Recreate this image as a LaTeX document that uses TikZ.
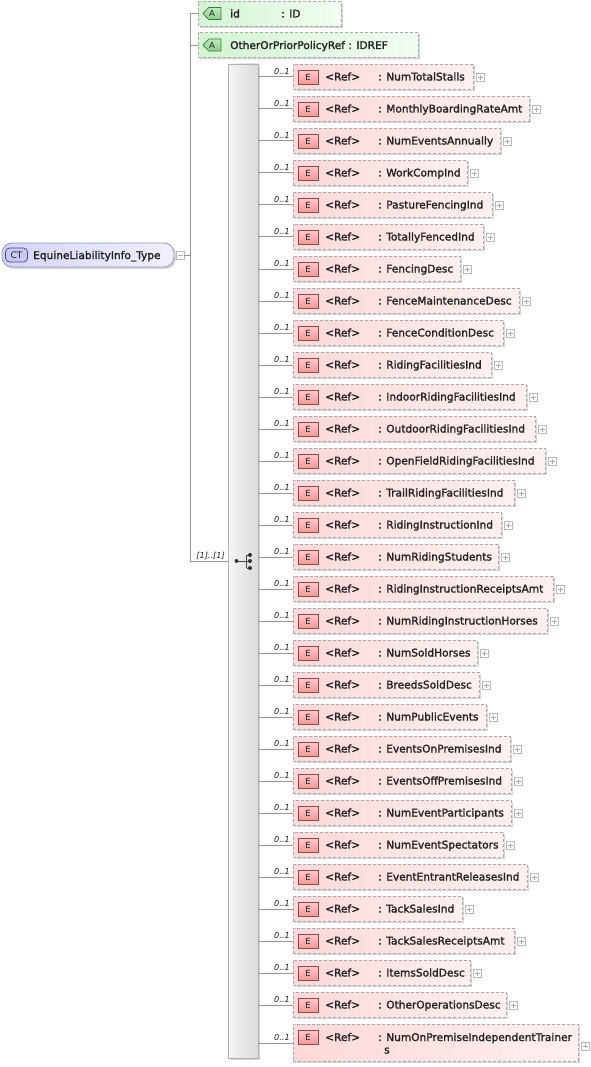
\documentclass[tikz,border=0pt]{standalone}
\usepackage{fontspec}
\setmainfont{DejaVu Sans}
\newfontfamily\bfnt[FakeBold=1.8]{DejaVu Sans}
\usetikzlibrary{shapes.misc,shadows}
\definecolor{linegray}{RGB}{150,150,150}
\definecolor{dashgray}{RGB}{170,170,170}
\definecolor{pinkL}{RGB}{253,216,216}
\definecolor{pinkR}{RGB}{255,240,240}
\definecolor{eiconT}{RGB}{252,200,200}
\definecolor{eiconBt}{RGB}{240,150,150}
\definecolor{eiconB}{RGB}{150,70,70}
\definecolor{greenL}{RGB}{210,245,210}
\definecolor{greenR}{RGB}{242,253,242}
\definecolor{aiconT}{RGB}{190,235,190}
\definecolor{aiconBt}{RGB}{140,205,140}
\definecolor{aiconB}{RGB}{60,120,60}
\definecolor{ctL}{RGB}{212,212,248}
\definecolor{ctR}{RGB}{240,240,253}
\definecolor{ctB}{RGB}{150,150,195}
\definecolor{cticon}{RGB}{200,200,242}
\definecolor{cticonB}{RGB}{70,70,130}
\definecolor{txt}{RGB}{35,35,35}
\begin{document}
\begin{tikzpicture}[x=1pt,y=-1pt,
  conn/.style={draw=linegray, line width=0.8pt},
  shadowed/.style={drop shadow={shadow xshift=2pt,shadow yshift=-2pt,fill=black!16,opacity=1}},
  elem/.style={shadowed, draw=dashgray, dash pattern=on 3pt off 2pt, line width=0.8pt,
    left color=pinkL, right color=pinkR, inner sep=0pt, minimum height=25pt, anchor=north west},
  eicon/.style={draw=eiconB, top color=eiconT, bottom color=eiconBt, line width=0.6pt,
    minimum width=20pt, minimum height=14pt, inner sep=0pt, font=\fontsize{8.5}{9}\selectfont, text=txt},
  lbl/.style={font=\bfnt\fontsize{10.6}{12}\selectfont, text=txt, inner sep=0pt, anchor=base west},
  mult/.style={font=\itshape\fontsize{8.2}{9}\selectfont, text=txt, inner sep=0pt, anchor=base east},
  plusbox/.style={draw=gray!55, fill=white, minimum size=8pt, inner sep=0pt, line width=0.5pt,
    path picture={\draw[gray!65, line width=0.5pt]
      ([xshift=-2.5pt]path picture bounding box.center) -- ([xshift=2.5pt]path picture bounding box.center)
      ([yshift=-2.5pt]path picture bounding box.center) -- ([yshift=2.5pt]path picture bounding box.center);}},
  minusbox/.style={draw=gray!55, fill=white, minimum size=8pt, inner sep=0pt, line width=0.5pt,
    path picture={\draw[gray!65, line width=0.5pt]
      ([xshift=-2.5pt]path picture bounding box.center) -- ([xshift=2.5pt]path picture bounding box.center);}},
  attr/.style={shadowed, chamfered rectangle, chamfered rectangle corners={north west,south west},
    chamfered rectangle xsep=6pt, draw=dashgray, dash pattern=on 3pt off 2pt, line width=0.8pt,
    left color=greenL, right color=greenR, inner sep=0pt, minimum height=25pt},
  aicon/.style={chamfered rectangle, chamfered rectangle corners={north west,south west},
    chamfered rectangle xsep=3pt, draw=aiconB, top color=aiconT, bottom color=aiconBt, line width=0.6pt,
    minimum width=18pt, minimum height=12pt, inner sep=0pt, font=\fontsize{8.5}{9}\selectfont, text=txt},
  ctnode/.style={shadowed, rounded corners=10pt, draw=ctB, line width=0.8pt, left color=ctL, right color=ctR,
    minimum width=172pt, minimum height=24pt, inner sep=0pt},
  cticon/.style={rounded corners=4pt, draw=cticonB, fill=cticon, line width=0.7pt,
    minimum width=22pt, minimum height=14pt, inner sep=0pt, font=\fontsize{9}{10}\selectfont, text=txt},
  seqbar/.style={shadowed, draw=gray!60, line width=0.8pt, left color=gray!8, right color=gray!28,
    minimum width=30pt, minimum height=994pt, inner sep=0pt}
]
\useasboundingbox (0,0) rectangle (590,1067);

% complex type
\node[ctnode] (ct) at (88,255) {};
\node[cticon] (cti) at (16.5,255) {CT};
\node[lbl] (ctt) at (33,259) {EquineLiabilityInfo\_Type};
\node[minusbox] (ctm) at (180,255) {};
\coordinate (trunk) at (190,255);

% attributes
\node[attr, minimum width=143pt] (a1) at (269.5,13.5) {};
\node[aicon] (a1i) at (212,13.5) {A};
\node[lbl] (a1n) at (230,17.5) {id};
\node[lbl] (a1t) at (281,17.5) {: ID};
\node[attr, minimum width=220pt] (a2) at (308,45) {};
\node[aicon] (a2i) at (212,45) {A};
\node[lbl] (a2n) at (230,49) {OtherOrPriorPolicyRef : IDREF};

% sequence
\node[seqbar] (seq) at (243,561) {};

\draw[conn] (ctm.east) -- (trunk);
\draw[conn] (trunk |- a1.west) -- (trunk |- seq.west);
\draw[conn] (trunk |- a1.west) -- (a1.west);
\draw[conn] (trunk |- a2.west) -- (a2.west);
\draw[conn] (trunk |- seq.west) -- (seq.west);
\node[mult] (seqm) at (225,558) {[1]..[1]};

% sequence symbol
\coordinate (sq0) at (236.5,561);
\coordinate (sq1) at (246.5,561);
\draw[black!75, line width=0.8pt] (sq0) -- (sq1) (246.5,555) -- (246.5,568)
  (246.5,555) -- (250,555) (246.5,568) -- (250,568) (sq1) -- (250,561);
\fill[black!80] (sq0) circle (2) (250,555) circle (2) (250,561) circle (2) (250,568) circle (2);

% elements
\foreach \nm/\r [count=\i from 0] in {NumTotalStalls/473, MonthlyBoardingRateAmt/529,
  NumEventsAnnually/500, WorkCompInd/467, PastureFencingInd/492, TotallyFencedInd/483,
  FencingDesc/460, FenceMaintenanceDesc/519, FenceConditionDesc/503, RidingFacilitiesInd/491,
  IndoorRidingFacilitiesInd/526, OutdoorRidingFacilitiesInd/535, OpenFieldRidingFacilitiesInd/545,
  TrailRidingFacilitiesInd/514, RidingInstructionInd/501, NumRidingStudents/498,
  RidingInstructionReceiptsAmt/553, NumRidingInstructionHorses/547, NumSoldHorses/477,
  BreedsSoldDesc/479, NumPublicEvents/486, EventsOnPremisesInd/510, EventsOffPremisesInd/511,
  NumEventParticipants/511, NumEventSpectators/503, EventEntrantReleasesInd/527,
  TackSalesInd/462, TackSalesReceiptsAmt/514, ItemsSoldDesc/470, OtherOperationsDesc/506}{
  \pgfmathsetmacro\w{\r-293}
  \pgfmathsetmacro\t{64+32*\i}
  \node[elem, minimum width=\w pt] (e\i) at (293,\t) {};
  \node[eicon] (ei\i) at ([xshift=15pt,yshift=-13.5pt]e\i.north west) {E};
  \node[lbl] (er\i) at ([xshift=32pt,yshift=-16.5pt]e\i.north west) {<Ref>};
  \node[lbl] (en\i) at ([xshift=85pt,yshift=-16.5pt]e\i.north west) {: \nm};
  \node[plusbox] (ep\i) at ([xshift=6.5pt,yshift=-0.5pt]e\i.east) {};
  \draw[conn] (seq.east |- e\i.west) -- (e\i.west);
  \node[mult] (em\i) at ([xshift=-3pt,yshift=2.5pt]e\i.west) {0..1};
}
% last element (wrapped name)
\node[elem, minimum width=285pt, minimum height=37pt] (e30) at (293,1024) {};
\node[eicon] (ei30) at ([xshift=15pt,yshift=-13.5pt]e30.north west) {E};
\node[lbl] (er30) at ([xshift=32pt,yshift=-17pt]e30.north west) {<Ref>};
\node[lbl] (en30) at ([xshift=85pt,yshift=-17pt]e30.north west) {: NumOnPremiseIndependentTrainer};
\node[lbl] (en30b) at ([xshift=91pt,yshift=-29.5pt]e30.north west) {s};
\node[plusbox] (ep30) at ([xshift=6.5pt,yshift=-3pt]e30.east) {};
\draw[conn] (seq.east |- e30.west) -- (e30.west);
\node[mult] (em30) at ([xshift=-3pt,yshift=2.5pt]e30.west) {0..1};
\end{tikzpicture}
\end{document}
